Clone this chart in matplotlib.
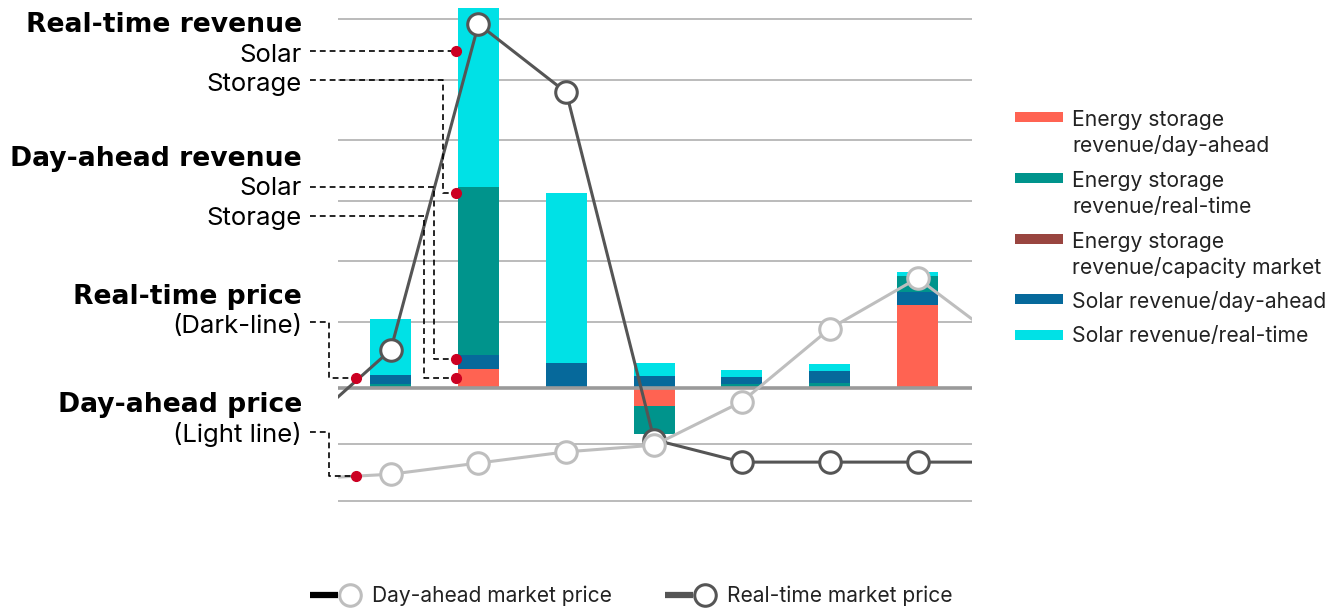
import matplotlib
matplotlib.use("Agg")
import matplotlib.pyplot as plt
from matplotlib.lines import Line2D
from matplotlib.patches import Rectangle
import numpy as np

plt.rcParams['font.family'] = ['Inter', 'DejaVu Sans']

# ---------------- data ----------------
periods = [0, 1, 2, 3, 4, 5, 6]
storage_da = [0.0, 3.2, 0.0, -2.9, 0.0, 0.0, 13.7]
storage_rt = [0.7, 27.8, 0.0, -4.6, 0.7, 0.88, 2.64]
storage_cap = [0.0, 0.0, 0.0, 0.0, 0.0, 0.0, 0.0]
solar_da = [1.54, 2.3, 4.2, 2.08, 1.16, 1.98, 2.2]
solar_rt = [9.2, 29.6, 28.1, 2.15, 1.16, 1.16, 0.66]

# price lines (first and last points lie outside the visible window)
price_x = [-1, 0, 1, 2, 3, 4, 5, 6, 7]
price_rt = [-6.6, 6.33, 60.2, 48.9, -8.5, -12.2, -12.2, -12.2, -12.2]
price_da = [-15.0, -14.2, -12.35, -10.5, -9.4, -2.2, 9.85, 18.2, 7.3]

grid_values = [-18.6, -9.2, 11, 21, 31, 41, 51, 61]

# stacking order of the series within each bar (bottom to top)
stack_order = [
    ["srt", "sda_sol", "rt_sol"],
    ["sda", "sda_sol", "srt", "rt_sol"],
    ["sda_sol", "rt_sol"],
    ["sda", "srt", "sda_sol", "rt_sol"],
    ["srt", "sda_sol", "rt_sol"],
    ["srt", "sda_sol", "rt_sol"],
    ["sda", "sda_sol", "srt", "rt_sol"],
]

legend_labels = [
    "Energy storage\nrevenue/day-ahead",
    "Energy storage\nrevenue/real-time",
    "Energy storage\nrevenue/capacity market",
    "Solar revenue/day-ahead",
    "Solar revenue/real-time",
]

# ---------------- style ----------------
C_CORAL = '#FF6352'
C_TEAL = '#00948C'
C_BROWN = '#994540'
C_BLUE = '#06699B'
C_CYAN = '#00E1E6'
C_DARK = '#555555'
C_LIGHT = '#BEBEBE'
C_RED = '#CC0022'

series = {
    "sda": (storage_da, C_CORAL),
    "srt": (storage_rt, C_TEAL),
    "cap": (storage_cap, C_BROWN),
    "sda_sol": (solar_da, C_BLUE),
    "rt_sol": (solar_rt, C_CYAN),
}

W, H = 1341, 611
fig = plt.figure(figsize=(W / 100, H / 100), dpi=100)
fig.patch.set_facecolor('white')

ZERO_PX = 388.3
K = 6.05
AX_L, AX_R, AX_T, AX_B = 338, 972, 0, 540
ax = fig.add_axes([AX_L / W, 1 - AX_B / H, (AX_R - AX_L) / W, (AX_B - AX_T) / H])
ax.set_xlim(-0.60, 6.62)
ax.set_ylim((ZERO_PX - AX_B) / K, (ZERO_PX - AX_T) / K)
ax.axis('off')

for g in grid_values:
    ax.axhline(g, color='#a8a8a8', lw=1.1, zorder=1)

bw = 0.466
for i, p in enumerate(periods):
    pos_base, neg_base = 0.0, 0.0
    for key in stack_order[i]:
        vals, col = series[key]
        v = vals[i]
        if v >= 0:
            ax.bar(p, v, bw, bottom=pos_base, color=col, linewidth=0, zorder=2)
            pos_base += v
        else:
            ax.bar(p, v, bw, bottom=neg_base, color=col, linewidth=0, zorder=2)
            neg_base += v

ax.axhline(0, color='#9a9a9a', lw=2.6, zorder=3)

mk = dict(marker='o', markersize=15.5, markerfacecolor='white', markeredgewidth=2.2,
          markevery=list(range(1, 8)))
ax.plot(price_x, price_rt, color=C_DARK, lw=2.2, markeredgecolor=C_DARK, zorder=4, **mk)
ax.plot(price_x, price_da, color=C_LIGHT, lw=2.2, markeredgecolor=C_LIGHT, zorder=5, **mk)


# ---------------- annotations (pixel layout) ----------------
def fx(px):
    return px / W


def fy(py):
    return 1 - py / H


dash = (0, (3.5, 2.4))


def leader(points):
    xs = [fx(p[0]) for p in points]
    ys = [fy(p[1]) for p in points]
    fig.add_artist(Line2D(xs, ys, color='black', lw=1.2, linestyle=dash, zorder=6))
    fig.add_artist(Line2D([xs[-1]], [ys[-1]], marker='o', markersize=7, color=C_RED,
                          linestyle='none', zorder=7))


leader([(310, 51), (456, 51)])
leader([(310, 80), (443, 80), (443, 193), (456, 193)])
leader([(310, 187), (434, 187), (434, 359), (456, 359)])
leader([(310, 216), (424, 216), (424, 378), (456, 378)])
leader([(310, 322), (329, 322), (329, 378), (356, 378)])
leader([(310, 432), (329, 432), (329, 476), (356, 476)])

TX = 302
labels_left = [
    ("Real-time revenue", 31.7, 'bold'),
    ("Solar", 61.7, 'normal'),
    ("Storage", 90.7, 'normal'),
    ("Day-ahead revenue", 166, 'bold'),
    ("Solar", 195, 'normal'),
    ("Storage", 225, 'normal'),
    ("Real-time price", 304.3, 'bold'),
    ("(Dark-line)", 333, 'normal'),
    ("Day-ahead price", 411.7, 'bold'),
    ("(Light line)", 441.7, 'normal'),
]
for txt, by, wt in labels_left:
    if wt == 'bold':
        fig.text(fx(TX), fy(by), txt, ha='right', va='baseline', fontsize=19.2,
                 fontweight='bold', family=['DejaVu Sans'], color='black')
    else:
        fig.text(fx(TX), fy(by), txt, ha='right', va='baseline', fontsize=18.5,
                 color='black')

# right legend
leg_cols = [C_CORAL, C_TEAL, C_BROWN, C_BLUE, C_CYAN]
leg_patch_top = [112, 173, 234, 294, 330]
leg_base = [126, 187, 247.5, 308, 342]
for lab, col, pt, bl in zip(legend_labels, leg_cols, leg_patch_top, leg_base):
    fig.add_artist(Rectangle((fx(1015), fy(pt + 9.5)), (1063 - 1015) / W, 9.5 / H,
                             transform=fig.transFigure, color=col, lw=0))
    for j, line in enumerate(lab.split("\n")):
        fig.text(fx(1072), fy(bl + 26.3 * j), line, ha='left', va='baseline',
                 fontsize=15.2, color='#222222')

# bottom legend
for x0, lc, mc, txt in [(310, 'black', C_LIGHT, "Day-ahead market price"),
                        (665, C_DARK, C_DARK, "Real-time market price")]:
    fig.add_artist(Line2D([fx(x0), fx(x0 + 28)], [fy(595), fy(595)], color=lc, lw=4.5,
                          solid_capstyle='butt'))
    fig.add_artist(Line2D([fx(x0 + 40)], [fy(595)], marker='o', markersize=15.5,
                          markerfacecolor='white', markeredgecolor=mc,
                          markeredgewidth=2.2, linestyle='none'))
    fig.text(fx(x0 + 62), fy(602), txt, ha='left', va='baseline', fontsize=15.1,
             color='#222222')

fig.savefig("out.png", dpi=100, facecolor='white')
